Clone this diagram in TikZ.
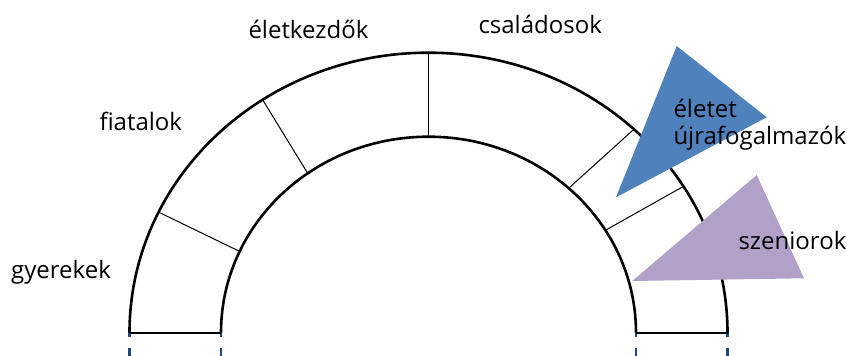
\documentclass[tikz,border=0pt]{standalone}
\usepackage{fontspec}
\setmainfont{Open Sans}
\definecolor{triblue}{HTML}{4F81BD}
\definecolor{tripurple}{HTML}{B1A0C7}
\definecolor{dashblue}{HTML}{1F497D}
\begin{document}
\begin{tikzpicture}[x=1pt,y=1pt,
  arcline/.style={line width=2.6pt},
  divline/.style={line width=1pt},
  baseline/.style={line width=2pt},
  guide/.style={dashblue,line width=2.4pt,dash pattern=on 10.5pt off 10.5pt},
  lbl/.style={anchor=base west,inner sep=0pt,font=\fontsize{24}{28}\selectfont}]
\useasboundingbox (0,0) rectangle (847,356);
\def\cx{428.5}\def\cy{23.3}
\def\Rx{299}\def\Ry{280}\def\rx{207.5}\def\ry{196}
% guide dashes
\foreach \gx/\nm in {129.5/ga,220.7/gb,635.7/gc,727.5/gd}{
  \coordinate (\nm top) at (\gx,29.3);
  \coordinate (\nm bot) at (\gx,0);
  \draw[guide] (\nm top) -- (\nm bot);
}
% arcs
\coordinate (oL) at ({\cx-\Rx},\cy);
\coordinate (iL) at ({\cx-\rx},\cy);
\coordinate (oR) at ({\cx+\Rx},\cy);
\coordinate (iR) at ({\cx+\rx},\cy);
\draw[arcline] (oL) arc[start angle=180,end angle=0,x radius=\Rx,y radius=\Ry];
\draw[arcline] (iL) arc[start angle=180,end angle=0,x radius=\rx,y radius=\ry];
\draw[baseline] (oL) -- (iL);
\draw[baseline] (iR) -- (oR);
% dividers
\foreach \to/\ti/\nm in {154.5/155.5/d1,123.7/125.6/d2,90/90/d3,46.6/47.5/d4,31.5/31.5/d5}{
  \coordinate (\nm o) at ({\cx+\Rx*cos(\to)},{\cy+\Ry*sin(\to)});
  \coordinate (\nm i) at ({\cx+\rx*cos(\ti)},{\cy+\ry*sin(\ti)});
  \draw[divline] (\nm o) -- (\nm i);
}
% triangles
\coordinate (b1) at (676.7,310);
\coordinate (b2) at (766.7,238.7);
\coordinate (b3) at (616,158.7);
\fill[triblue] (b1) -- (b2) -- (b3) -- cycle;
\coordinate (p1) at (756.7,181);
\coordinate (p2) at (804,77.7);
\coordinate (p3) at (632.3,75);
\fill[tripurple] (p1) -- (p2) -- (p3) -- cycle;
% labels
\node[lbl] (gy) at (11,77.7) {gyerekek};
\node[lbl] (fi) at (99.3,225) {fiatalok};
\node[lbl] (el) at (248.3,317.7) {életkezdők};
\node[lbl] (cs) at (478.3,322.7) {családosok};
\node[lbl] (et) at (673.3,238.7) {életet};
\node[lbl] (uj) at (673.3,211) {újrafogalmazók};
\node[lbl] (sz) at (738.3,106) {szeniorok};
\end{tikzpicture}
\end{document}
